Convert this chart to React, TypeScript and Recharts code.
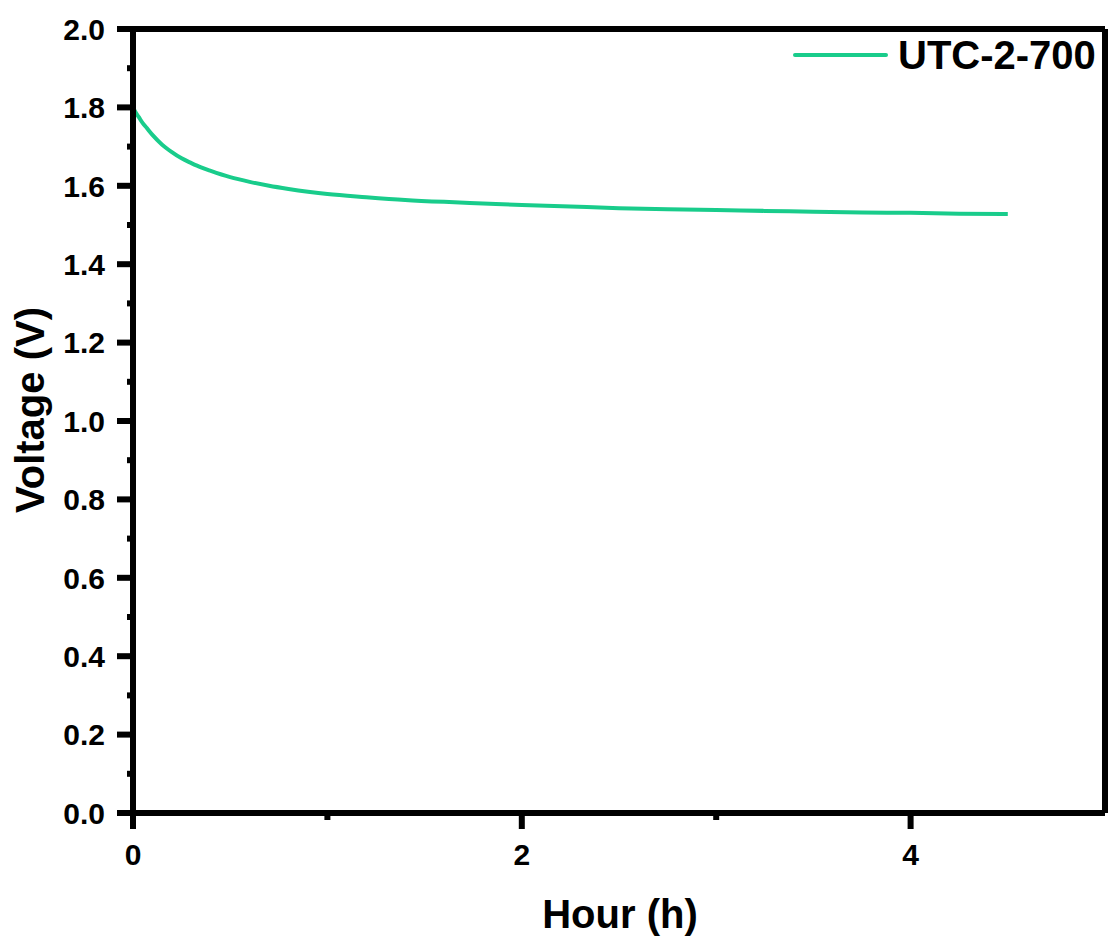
import React from "react";
import { LineChart, Line, XAxis, YAxis, ReferenceLine, Legend } from "recharts";

const hours = [0, 0.01, 0.03, 0.05, 0.07, 0.1, 0.15, 0.2, 0.25, 0.3, 0.35, 0.4, 0.5, 0.6, 0.7, 0.8, 0.9, 1.0, 1.2, 1.4, 1.6, 1.8, 2.0, 2.25, 2.5, 2.75, 3.0, 3.25, 3.5, 3.75, 4.0, 4.25, 4.5];
const voltage = [1.8, 1.79, 1.775, 1.76, 1.748, 1.73, 1.705, 1.686, 1.67, 1.658, 1.647, 1.638, 1.622, 1.61, 1.6, 1.592, 1.585, 1.579, 1.571, 1.564, 1.559, 1.555, 1.551, 1.547, 1.543, 1.54, 1.538, 1.536, 1.534, 1.532, 1.531, 1.529, 1.528];
const seriesName = "UTC-2-700";

const majorX = [0, 2, 4];
const minorX = [1, 3];
const majorY = [0, 0.2, 0.4, 0.6, 0.8, 1.0, 1.2, 1.4, 1.6, 1.8, 2.0];
const minorY = [0.1, 0.3, 0.5, 0.7, 0.9, 1.1, 1.3, 1.5, 1.7, 1.9];

const data = hours.map((h, i) => ({ h, v: voltage[i] }));
const xTicks = [...majorX, ...minorX].sort((a, b) => a - b);
const yTicks = [...majorY, ...minorY].sort((a, b) => a - b);

const COLOR = "#19CC8B";
const FONT = "'Liberation Sans', Arial, sans-serif";
const AXW = 6;

const YTick = (props: any) => {
  const x = Number(props.x);
  const y = Number(props.y);
  const v = props.payload.value;
  const major = majorY.includes(v);
  const len = major ? 16 : 6;
  return (
    <g>
      <rect x={x - len} y={y - AXW / 2} width={len} height={AXW} fill="#000" />
      {major && (
        <text x={x - 28} y={y} dy="0.36em" textAnchor="end" fontFamily={FONT} fontWeight="bold" fontSize={30} fill="#000">
          {v.toFixed(1)}
        </text>
      )}
    </g>
  );
};

const XTick = (props: any) => {
  const x = Number(props.x);
  const y = Number(props.y);
  const v = props.payload.value;
  const major = majorX.includes(v);
  const len = major ? 16 : 7;
  return (
    <g>
      <rect x={x - AXW / 2} y={y} width={AXW} height={len} fill="#000" />
      {major && (
        <text x={x} y={y + 52} textAnchor="middle" fontFamily={FONT} fontWeight="bold" fontSize={30} fill="#000">
          {v}
        </text>
      )}
    </g>
  );
};

const XLabel = (props: any) => {
  const vb = props.viewBox;
  return (
    <text x={vb.x + vb.width / 2 + 1} y={vb.y + 115} textAnchor="middle" fontFamily={FONT} fontWeight="bold" fontSize={40} fill="#000">
      Hour (h)
    </text>
  );
};

const YLabel = (props: any) => {
  const vb = props.viewBox;
  const cx = vb.x + 44;
  const cy = vb.y + vb.height / 2 - 11;
  return (
    <text x={cx} y={cy} transform={`rotate(-90 ${cx} ${cy})`} textAnchor="middle" fontFamily={FONT} fontWeight="bold" fontSize={40} fill="#000">
      Voltage (V)
    </text>
  );
};

const LegendContent = () => (
  <div style={{ display: "flex", alignItems: "center", height: 40 }}>
    <svg width={95} height={8} style={{ display: "block" }}>
      <line x1={2} x2={93} y1={4} y2={4} stroke={COLOR} strokeWidth={4} strokeLinecap="round" />
    </svg>
    <span style={{ marginLeft: 10, fontFamily: FONT, fontWeight: "bold", fontSize: 40, lineHeight: "40px", color: "#000" }}>
      {seriesName}
    </span>
  </div>
);

export default function App() {
  return (
    <div style={{ position: "absolute", left: 0, top: 0, width: 1110, height: 940, background: "#fff" }}>
      <LineChart width={1110} height={940} data={data} margin={{ top: 29, right: 5, left: 0, bottom: 0 }}>
        <XAxis
          dataKey="h"
          type="number"
          domain={[0, 5]}
          ticks={xTicks}
          interval={0}
          height={127}
          tickSize={0}
          tickMargin={0}
          tickLine={false}
          tick={<XTick />}
          axisLine={{ stroke: "#000", strokeWidth: AXW }}
          label={<XLabel />}
        />
        <YAxis
          type="number"
          domain={[0, 2]}
          ticks={yTicks}
          interval={0}
          width={133}
          tickSize={0}
          tickMargin={0}
          tickLine={false}
          tick={<YTick />}
          axisLine={{ stroke: "#000", strokeWidth: AXW }}
          label={<YLabel />}
        />
        <ReferenceLine y={2} stroke="#000" strokeWidth={AXW} ifOverflow="visible" />
        <ReferenceLine x={5} stroke="#000" strokeWidth={AXW} ifOverflow="visible" />
        <Legend
          layout="vertical"
          verticalAlign="middle"
          align="center"
          content={<LegendContent />}
          wrapperStyle={{ position: "absolute", left: 793, top: 35, width: "auto", height: "auto" }}
        />
        <Line
          type="monotone"
          dataKey="v"
          name={seriesName}
          stroke={COLOR}
          strokeWidth={4}
          dot={false}
          isAnimationActive={false}
        />
      </LineChart>
    </div>
  );
}
